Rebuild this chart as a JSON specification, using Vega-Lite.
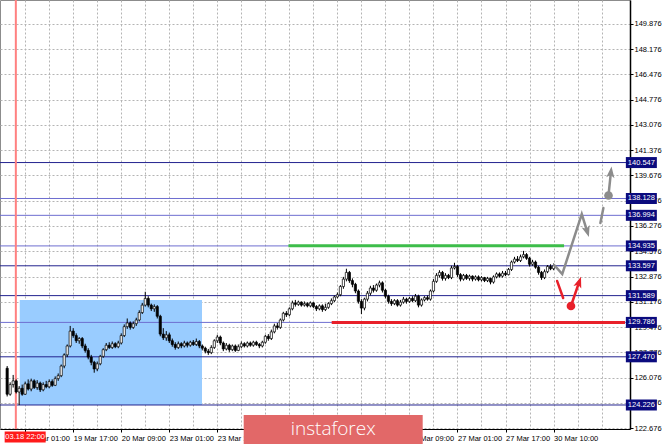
{
  "$schema": "https://vega.github.io/schema/vega-lite/v6.json",
  "description": "USD/JPY H1 with forecast levels",
  "width": 630,
  "height": 429,
  "autosize": {"type": "none"},
  "padding": {"left": 0, "top": 0, "right": 35, "bottom": 17},
  "background": "white",
  "config": {
    "view": {"stroke": "#8c8c8c", "strokeWidth": 1},
    "font": "Liberation Sans",
    "axis": {"labelOverlap": false, "labelFlush": false}
  },
  "resolve": {"scale": {"color": "independent"}},
  "datasets": {
    "candles": [
      {"i":-6,"o":126.70,"h":126.85,"l":124.80,"c":124.95},
      {"i":-5,"o":124.95,"h":125.75,"l":124.85,"c":125.60},
      {"i":-4,"o":125.60,"h":126.25,"l":125.40,"c":125.85},
      {"i":-3,"o":125.85,"h":125.95,"l":125.00,"c":125.10},
      {"i":-2,"o":125.10,"h":125.50,"l":124.22,"c":125.35},
      {"i":-1,"o":125.35,"h":125.60,"l":124.85,"c":124.95},
      {"i":0,"o":124.95,"h":125.80,"l":124.90,"c":125.65},
      {"i":1,"o":125.65,"h":125.95,"l":125.20,"c":125.30},
      {"i":2,"o":125.30,"h":126.00,"l":125.15,"c":125.85},
      {"i":3,"o":125.85,"h":125.95,"l":125.30,"c":125.40},
      {"i":4,"o":125.40,"h":125.90,"l":125.25,"c":125.70},
      {"i":5,"o":125.70,"h":125.80,"l":125.10,"c":125.25},
      {"i":6,"o":125.25,"h":125.75,"l":125.15,"c":125.60},
      {"i":7,"o":125.60,"h":125.85,"l":125.35,"c":125.45},
      {"i":8,"o":125.45,"h":125.95,"l":125.35,"c":125.80},
      {"i":9,"o":125.80,"h":125.95,"l":125.45,"c":125.55},
      {"i":10,"o":125.55,"h":126.15,"l":125.50,"c":126.00},
      {"i":11,"o":126.00,"h":126.35,"l":125.85,"c":126.20},
      {"i":12,"o":126.20,"h":126.95,"l":126.10,"c":126.85},
      {"i":13,"o":126.85,"h":127.70,"l":126.70,"c":127.60},
      {"i":14,"o":127.60,"h":128.30,"l":127.45,"c":128.20},
      {"i":15,"o":128.20,"h":129.55,"l":128.10,"c":129.20},
      {"i":16,"o":129.20,"h":129.40,"l":128.75,"c":128.90},
      {"i":17,"o":128.90,"h":129.05,"l":128.40,"c":128.55},
      {"i":18,"o":128.55,"h":128.80,"l":128.35,"c":128.70},
      {"i":19,"o":128.70,"h":128.80,"l":128.05,"c":128.20},
      {"i":20,"o":128.20,"h":128.35,"l":127.75,"c":127.90},
      {"i":21,"o":127.90,"h":128.05,"l":127.30,"c":127.45},
      {"i":22,"o":127.45,"h":127.60,"l":126.90,"c":127.10},
      {"i":23,"o":127.10,"h":127.20,"l":126.40,"c":126.65},
      {"i":24,"o":126.65,"h":127.15,"l":126.50,"c":127.00},
      {"i":25,"o":127.00,"h":127.60,"l":126.90,"c":127.50},
      {"i":26,"o":127.50,"h":128.05,"l":127.40,"c":127.95},
      {"i":27,"o":127.95,"h":128.40,"l":127.85,"c":128.25},
      {"i":28,"o":128.25,"h":128.45,"l":128.00,"c":128.10},
      {"i":29,"o":128.10,"h":128.50,"l":128.00,"c":128.35},
      {"i":30,"o":128.35,"h":128.45,"l":128.05,"c":128.15},
      {"i":31,"o":128.15,"h":128.55,"l":128.05,"c":128.40},
      {"i":32,"o":128.40,"h":129.05,"l":128.30,"c":128.90},
      {"i":33,"o":128.90,"h":129.65,"l":128.80,"c":129.50},
      {"i":34,"o":129.50,"h":130.05,"l":129.35,"c":129.75},
      {"i":35,"o":129.75,"h":129.85,"l":129.30,"c":129.45},
      {"i":36,"o":129.45,"h":129.85,"l":129.35,"c":129.70},
      {"i":37,"o":129.70,"h":130.10,"l":129.55,"c":129.95},
      {"i":38,"o":129.95,"h":130.60,"l":129.85,"c":130.45},
      {"i":39,"o":130.45,"h":131.10,"l":130.35,"c":130.95},
      {"i":40,"o":130.95,"h":131.85,"l":130.85,"c":131.40},
      {"i":41,"o":131.40,"h":131.55,"l":130.80,"c":130.95},
      {"i":42,"o":130.95,"h":131.05,"l":130.55,"c":130.70},
      {"i":43,"o":130.70,"h":131.00,"l":130.50,"c":130.85},
      {"i":44,"o":130.85,"h":130.95,"l":130.05,"c":130.20},
      {"i":45,"o":130.20,"h":130.30,"l":128.85,"c":129.00},
      {"i":46,"o":129.00,"h":129.40,"l":128.60,"c":128.75},
      {"i":47,"o":128.75,"h":129.20,"l":128.55,"c":128.95},
      {"i":48,"o":128.95,"h":129.10,"l":128.40,"c":128.55},
      {"i":49,"o":128.55,"h":128.70,"l":128.15,"c":128.30},
      {"i":50,"o":128.30,"h":128.45,"l":127.95,"c":128.10},
      {"i":51,"o":128.10,"h":128.50,"l":128.00,"c":128.35},
      {"i":52,"o":128.35,"h":128.45,"l":128.05,"c":128.20},
      {"i":53,"o":128.20,"h":128.55,"l":128.10,"c":128.40},
      {"i":54,"o":128.40,"h":128.50,"l":128.10,"c":128.25},
      {"i":55,"o":128.25,"h":128.55,"l":128.15,"c":128.45},
      {"i":56,"o":128.45,"h":128.60,"l":128.20,"c":128.30},
      {"i":57,"o":128.30,"h":128.70,"l":128.20,"c":128.50},
      {"i":58,"o":128.50,"h":128.60,"l":128.05,"c":128.20},
      {"i":59,"o":128.20,"h":128.30,"l":127.90,"c":128.05},
      {"i":60,"o":128.05,"h":128.15,"l":127.70,"c":127.85},
      {"i":61,"o":127.85,"h":128.00,"l":127.60,"c":127.75},
      {"i":62,"o":127.75,"h":128.25,"l":127.65,"c":128.10},
      {"i":63,"o":128.10,"h":128.65,"l":128.00,"c":128.55},
      {"i":64,"o":128.55,"h":128.95,"l":128.40,"c":128.80},
      {"i":65,"o":128.80,"h":128.90,"l":128.25,"c":128.40},
      {"i":66,"o":128.40,"h":128.50,"l":127.85,"c":128.00},
      {"i":67,"o":128.00,"h":128.40,"l":127.90,"c":128.25},
      {"i":68,"o":128.25,"h":128.35,"l":127.80,"c":127.95},
      {"i":69,"o":127.95,"h":128.30,"l":127.85,"c":128.20},
      {"i":70,"o":128.20,"h":128.30,"l":127.80,"c":127.90},
      {"i":71,"o":127.90,"h":128.30,"l":127.85,"c":128.15},
      {"i":72,"o":128.15,"h":128.50,"l":128.05,"c":128.35},
      {"i":73,"o":128.35,"h":128.45,"l":128.10,"c":128.20},
      {"i":74,"o":128.20,"h":128.50,"l":128.10,"c":128.40},
      {"i":75,"o":128.40,"h":128.50,"l":128.15,"c":128.25},
      {"i":76,"o":128.25,"h":128.55,"l":128.15,"c":128.45},
      {"i":77,"o":128.45,"h":128.55,"l":128.20,"c":128.30},
      {"i":78,"o":128.30,"h":128.40,"l":128.05,"c":128.20},
      {"i":79,"o":128.20,"h":128.55,"l":128.10,"c":128.45},
      {"i":80,"o":128.45,"h":128.95,"l":128.35,"c":128.85},
      {"i":81,"o":128.85,"h":129.00,"l":128.55,"c":128.70},
      {"i":82,"o":128.70,"h":129.30,"l":128.60,"c":129.15},
      {"i":83,"o":129.15,"h":129.70,"l":129.05,"c":129.55},
      {"i":84,"o":129.55,"h":129.75,"l":129.30,"c":129.45},
      {"i":85,"o":129.45,"h":130.05,"l":129.35,"c":129.95},
      {"i":86,"o":129.95,"h":130.50,"l":129.85,"c":130.40},
      {"i":87,"o":130.40,"h":130.55,"l":130.15,"c":130.30},
      {"i":88,"o":130.30,"h":130.80,"l":130.20,"c":130.70},
      {"i":89,"o":130.70,"h":131.25,"l":130.60,"c":131.10},
      {"i":90,"o":131.10,"h":131.30,"l":130.85,"c":131.00},
      {"i":91,"o":131.00,"h":131.25,"l":130.90,"c":131.15},
      {"i":92,"o":131.15,"h":131.20,"l":130.85,"c":130.95},
      {"i":93,"o":130.95,"h":131.20,"l":130.85,"c":131.05},
      {"i":94,"o":131.05,"h":131.15,"l":130.80,"c":130.90},
      {"i":95,"o":130.90,"h":131.20,"l":130.80,"c":131.10},
      {"i":96,"o":131.10,"h":131.15,"l":130.75,"c":130.85},
      {"i":97,"o":130.85,"h":130.95,"l":130.55,"c":130.70},
      {"i":98,"o":130.70,"h":131.00,"l":130.60,"c":130.90},
      {"i":99,"o":130.90,"h":131.00,"l":130.50,"c":130.65},
      {"i":100,"o":130.65,"h":131.05,"l":130.55,"c":130.80},
      {"i":101,"o":130.80,"h":131.15,"l":130.70,"c":131.05},
      {"i":102,"o":131.05,"h":131.40,"l":130.95,"c":131.25},
      {"i":103,"o":131.25,"h":131.60,"l":131.15,"c":131.50},
      {"i":104,"o":131.50,"h":131.80,"l":131.40,"c":131.65},
      {"i":105,"o":131.65,"h":132.30,"l":131.55,"c":132.20},
      {"i":106,"o":132.20,"h":132.85,"l":132.05,"c":132.70},
      {"i":107,"o":132.70,"h":133.40,"l":132.55,"c":133.15},
      {"i":108,"o":133.15,"h":133.25,"l":132.45,"c":132.60},
      {"i":109,"o":132.60,"h":132.75,"l":132.15,"c":132.35},
      {"i":110,"o":132.35,"h":132.45,"l":131.75,"c":131.90},
      {"i":111,"o":131.90,"h":132.00,"l":131.05,"c":131.20},
      {"i":112,"o":131.20,"h":131.35,"l":130.35,"c":130.75},
      {"i":113,"o":130.75,"h":131.45,"l":130.60,"c":131.35},
      {"i":114,"o":131.35,"h":131.90,"l":131.20,"c":131.75},
      {"i":115,"o":131.75,"h":132.25,"l":131.60,"c":132.10},
      {"i":116,"o":132.10,"h":132.30,"l":131.80,"c":131.95},
      {"i":117,"o":131.95,"h":132.40,"l":131.85,"c":132.30},
      {"i":118,"o":132.30,"h":132.60,"l":132.15,"c":132.45},
      {"i":119,"o":132.45,"h":132.55,"l":131.80,"c":131.95},
      {"i":120,"o":131.95,"h":132.05,"l":131.40,"c":131.55},
      {"i":121,"o":131.55,"h":131.65,"l":131.05,"c":131.20},
      {"i":122,"o":131.20,"h":131.35,"l":130.90,"c":131.05},
      {"i":123,"o":131.05,"h":131.35,"l":130.95,"c":131.25},
      {"i":124,"o":131.25,"h":131.35,"l":130.85,"c":130.95},
      {"i":125,"o":130.95,"h":131.30,"l":130.85,"c":131.15},
      {"i":126,"o":131.15,"h":131.50,"l":131.05,"c":131.35},
      {"i":127,"o":131.35,"h":131.45,"l":131.05,"c":131.20},
      {"i":128,"o":131.20,"h":131.50,"l":131.10,"c":131.40},
      {"i":129,"o":131.40,"h":131.55,"l":131.15,"c":131.25},
      {"i":130,"o":131.25,"h":131.70,"l":131.15,"c":131.55},
      {"i":131,"o":131.55,"h":131.65,"l":130.80,"c":130.95},
      {"i":132,"o":130.95,"h":131.40,"l":130.85,"c":131.30},
      {"i":133,"o":131.30,"h":131.55,"l":131.20,"c":131.45},
      {"i":134,"o":131.45,"h":131.60,"l":131.25,"c":131.35},
      {"i":135,"o":131.35,"h":132.00,"l":131.25,"c":131.90},
      {"i":136,"o":131.90,"h":132.70,"l":131.80,"c":132.55},
      {"i":137,"o":132.55,"h":133.10,"l":132.45,"c":132.95},
      {"i":138,"o":132.95,"h":133.30,"l":132.80,"c":133.15},
      {"i":139,"o":133.15,"h":133.25,"l":132.60,"c":132.75},
      {"i":140,"o":132.75,"h":133.10,"l":132.60,"c":132.95},
      {"i":141,"o":132.95,"h":133.05,"l":132.70,"c":132.80},
      {"i":142,"o":132.80,"h":133.60,"l":132.70,"c":133.45},
      {"i":143,"o":133.45,"h":133.80,"l":133.35,"c":133.55},
      {"i":144,"o":133.55,"h":133.65,"l":132.85,"c":133.00},
      {"i":145,"o":133.00,"h":133.10,"l":132.55,"c":132.70},
      {"i":146,"o":132.70,"h":133.05,"l":132.60,"c":132.95},
      {"i":147,"o":132.95,"h":133.05,"l":132.65,"c":132.75},
      {"i":148,"o":132.75,"h":133.00,"l":132.60,"c":132.90},
      {"i":149,"o":132.90,"h":132.95,"l":132.55,"c":132.70},
      {"i":150,"o":132.70,"h":132.95,"l":132.60,"c":132.85},
      {"i":151,"o":132.85,"h":132.95,"l":132.55,"c":132.65},
      {"i":152,"o":132.65,"h":132.90,"l":132.55,"c":132.80},
      {"i":153,"o":132.80,"h":132.85,"l":132.50,"c":132.60},
      {"i":154,"o":132.60,"h":132.85,"l":132.50,"c":132.75},
      {"i":155,"o":132.75,"h":132.80,"l":132.35,"c":132.50},
      {"i":156,"o":132.50,"h":132.95,"l":132.40,"c":132.85},
      {"i":157,"o":132.85,"h":133.15,"l":132.75,"c":133.05},
      {"i":158,"o":133.05,"h":133.15,"l":132.80,"c":132.90},
      {"i":159,"o":132.90,"h":133.25,"l":132.80,"c":133.10},
      {"i":160,"o":133.10,"h":133.25,"l":132.90,"c":133.00},
      {"i":161,"o":133.00,"h":133.45,"l":132.95,"c":133.35},
      {"i":162,"o":133.35,"h":133.95,"l":133.25,"c":133.85},
      {"i":163,"o":133.85,"h":134.20,"l":133.75,"c":134.05},
      {"i":164,"o":134.05,"h":134.25,"l":133.85,"c":133.95},
      {"i":165,"o":133.95,"h":134.35,"l":133.85,"c":134.20},
      {"i":166,"o":134.20,"h":134.60,"l":134.10,"c":134.35},
      {"i":167,"o":134.35,"h":134.45,"l":134.00,"c":134.10},
      {"i":168,"o":134.10,"h":134.20,"l":133.55,"c":133.70},
      {"i":169,"o":133.70,"h":134.00,"l":133.60,"c":133.85},
      {"i":170,"o":133.85,"h":133.95,"l":133.40,"c":133.50},
      {"i":171,"o":133.50,"h":133.60,"l":133.00,"c":133.15},
      {"i":172,"o":133.15,"h":133.25,"l":132.65,"c":132.80},
      {"i":173,"o":132.80,"h":133.35,"l":132.70,"c":133.20},
      {"i":174,"o":133.20,"h":133.65,"l":133.10,"c":133.55},
      {"i":175,"o":133.55,"h":133.70,"l":133.30,"c":133.40},
      {"i":176,"o":133.40,"h":133.75,"l":133.30,"c":133.60}
    ],
    "levels": [
      {"p":140.547,"k":"a"},{"p":138.128,"k":"b"},{"p":136.994,"k":"b"},
      {"p":134.935,"k":"b"},{"p":133.597,"k":"a"},{"p":131.589,"k":"a"},
      {"p":129.786,"k":"b"},{"p":127.470,"k":"a"},{"p":124.226,"k":"a"}
    ],
    "zone": [{"i":-1.8,"i2":58.9,"p":124.226,"p2":131.29}],
    "separator": [{"i":-3.11,"t":"03.18 22:00"}],
    "targets": [
      {"s":"g","i":87.7,"i2":179.5,"p":134.94},
      {"s":"r","i":102.1,"i2":199.8,"p":129.786}
    ],
    "paths": [
      {"seg":"g1","s":"g","n":1,"i":176.2,"p":133.65},
      {"seg":"g1","s":"g","n":2,"i":178.9,"p":133.04},
      {"seg":"g1","s":"g","n":3,"i":185.4,"p":137.08},
      {"seg":"g1","s":"g","n":4,"i":187.2,"p":135.92},
      {"seg":"g2","s":"g","n":1,"i":191.6,"p":136.48},
      {"seg":"g2","s":"g","n":2,"i":192.6,"p":137.49},
      {"seg":"g3","s":"g","n":1,"i":194.3,"p":138.33},
      {"seg":"g3","s":"g","n":2,"i":195.1,"p":139.88},
      {"seg":"r1","s":"r","n":1,"i":177.2,"p":132.57},
      {"seg":"r1","s":"r","n":2,"i":179.2,"p":131.43},
      {"seg":"r2","s":"r","n":1,"i":181.8,"p":130.89},
      {"seg":"r2","s":"r","n":2,"i":184.5,"p":132.49}
    ],
    "heads": [
      {"id":"g1","i":187.2,"p":135.92},
      {"id":"g3","i":195.1,"p":139.88},
      {"id":"r2","i":184.5,"p":132.49}
    ],
    "dots": [
      {"s":"g","i":194.3,"p":138.33},
      {"s":"r","i":181.8,"p":130.89}
    ],
    "brand": [{"t":"instaforex"}]
  },
  "layer": [
    {
      "data": {"name": "zone"},
      "mark": {"type": "rect", "color": "#99ccff"},
      "encoding": {
        "x": {
          "field": "i", "type": "quantitative", "title": null,
          "scale": {"domain": [-6.72, 199.8], "nice": false, "zero": false},
          "axis": {
            "values": [0,8,16,24,32,40,48,56,64,72,80,88,96,104,112,120,128,136,144,152,160,168,176,184,192],
            "tickCount": 100,
            "labelExpr": "datum.value % 16 == 0 && datum.value <= 176 ? ['19 Mar 01:00','19 Mar 17:00','20 Mar 09:00','23 Mar 01:00','23 Mar 17:00','24 Mar 09:00','25 Mar 01:00','25 Mar 17:00','26 Mar 09:00','27 Mar 01:00','27 Mar 17:00','30 Mar 10:00'][datum.value / 16] : ''",
            "labelAlign": "left",
            "labelFlush": false,
            "labelOverlap": false,
            "labelPadding": 2,
            "labelFontSize": 7.5,
            "labelColor": "black",
            "tickSize": 3,
            "tickColor": "black",
            "tickOpacity": {"condition": {"test": "datum.value % 16 == 0 && datum.value <= 176", "value": 1}, "value": 0},
            "domainColor": "black",
            "grid": true,
            "gridColor": "#b4b4b4",
            "gridDash": [2, 2]
          }
        },
        "x2": {"field": "i2"},
        "y": {
          "field": "p", "type": "quantitative", "title": null,
          "scale": {"domain": [122.61, 151.49], "nice": false, "zero": false},
          "axis": {
            "orient": "right",
            "values": [122.676,124.376,126.076,127.776,129.476,131.176,132.876,134.576,136.276,137.976,139.676,141.376,143.076,144.776,146.476,148.176,149.876],
            "tickCount": 100,
            "format": ".3f",
            "labelFlush": false,
            "labelOverlap": false,
            "labelPadding": 1,
            "labelFontSize": 7.5,
            "labelColor": "black",
            "tickSize": 3,
            "tickColor": "black",
            "domainColor": "black",
            "domainWidth": 1.5,
            "grid": true,
            "gridColor": "#b4b4b4",
            "gridDash": [2, 2]
          }
        },
        "y2": {"field": "p2"}
      }
    },
    {
      "data": {"name": "levels"},
      "mark": {"type": "rule", "strokeWidth": 1},
      "encoding": {
        "y": {"field": "p", "type": "quantitative", "title": null},
        "color": {"field": "k", "type": "nominal", "legend": null,
          "scale": {"domain": ["a", "b"], "range": ["#23238f", "#6e6ed0"]}}
      }
    },
    {
      "data": {"name": "separator"},
      "mark": {"type": "rule", "color": "#ff8080", "strokeWidth": 2},
      "encoding": {
        "x": {"field": "i", "type": "quantitative", "title": null}
      }
    },
    {
      "data": {"name": "targets"},
      "mark": {"type": "rule", "strokeWidth": 3},
      "encoding": {
        "x": {"field": "i", "type": "quantitative", "title": null},
        "x2": {"field": "i2"},
        "y": {"field": "p", "type": "quantitative", "title": null},
        "color": {"field": "s", "type": "nominal", "legend": null,
          "scale": {"domain": ["g", "r"], "range": ["#3dbd4a", "#e8202a"]}}
      }
    },
    {
      "data": {"name": "candles"},
      "mark": {"type": "rule", "color": "black", "strokeWidth": 1},
      "encoding": {
        "x": {"field": "i", "type": "quantitative", "title": null},
        "y": {"field": "l", "type": "quantitative", "title": null},
        "y2": {"field": "h"}
      }
    },
    {
      "data": {"name": "candles"},
      "mark": {"type": "bar", "width": 2.2, "stroke": "black", "strokeWidth": 0.7},
      "encoding": {
        "x": {"field": "i", "type": "quantitative", "title": null},
        "y": {"field": "o", "type": "quantitative", "title": null},
        "y2": {"field": "c"},
        "fill": {"condition": {"test": "datum.c >= datum.o", "value": "white"}, "value": "black"}
      }
    },
    {
      "data": {"name": "paths"},
      "mark": {"type": "line", "strokeWidth": 2.5, "strokeCap": "round"},
      "encoding": {
        "x": {"field": "i", "type": "quantitative", "title": null},
        "y": {"field": "p", "type": "quantitative", "title": null},
        "detail": {"field": "seg"},
        "order": {"field": "n"},
        "color": {"field": "s", "type": "nominal", "legend": null,
          "scale": {"domain": ["g", "r"], "range": ["#8c8c8c", "#e8202a"]}}
      }
    },
    {
      "data": {"name": "dots"},
      "mark": {"type": "point", "shape": "circle", "filled": true, "opacity": 1, "size": 75},
      "encoding": {
        "x": {"field": "i", "type": "quantitative", "title": null},
        "y": {"field": "p", "type": "quantitative", "title": null},
        "color": {"field": "s", "type": "nominal", "legend": null,
          "scale": {"domain": ["g", "r"], "range": ["#8c8c8c", "#e8202a"]}}
      }
    },
    {
      "data": {"name": "heads"},
      "transform": [{"filter": "datum.id == 'g1'"}],
      "mark": {"type": "point", "shape": "M0,-1L0.7,0.9L0,0.45L-0.7,0.9Z", "filled": true, "opacity": 1, "size": 140, "angle": 163, "color": "#8c8c8c"},
      "encoding": {
        "x": {"field": "i", "type": "quantitative", "title": null},
        "y": {"field": "p", "type": "quantitative", "title": null}
      }
    },
    {
      "data": {"name": "heads"},
      "transform": [{"filter": "datum.id == 'g3'"}],
      "mark": {"type": "point", "shape": "M0,-1L0.7,0.9L0,0.45L-0.7,0.9Z", "filled": true, "opacity": 1, "size": 140, "angle": 6, "color": "#8c8c8c"},
      "encoding": {
        "x": {"field": "i", "type": "quantitative", "title": null},
        "y": {"field": "p", "type": "quantitative", "title": null}
      }
    },
    {
      "data": {"name": "heads"},
      "transform": [{"filter": "datum.id == 'r2'"}],
      "mark": {"type": "point", "shape": "M0,-1L0.7,0.9L0,0.45L-0.7,0.9Z", "filled": true, "opacity": 1, "size": 140, "angle": 19, "color": "#e8202a"},
      "encoding": {
        "x": {"field": "i", "type": "quantitative", "title": null},
        "y": {"field": "p", "type": "quantitative", "title": null}
      }
    },
    {
      "data": {"name": "levels"},
      "mark": {"type": "tick", "orient": "horizontal", "size": 31, "thickness": 11, "color": "#0b0b7e", "opacity": 1},
      "encoding": {
        "x": {"datum": 205.25, "type": "quantitative"},
        "y": {"field": "p", "type": "quantitative", "title": null}
      }
    },
    {
      "data": {"name": "levels"},
      "mark": {"type": "text", "color": "white", "fontSize": 7.5, "align": "center", "baseline": "middle"},
      "encoding": {
        "x": {"datum": 205.25, "type": "quantitative"},
        "y": {"field": "p", "type": "quantitative", "title": null},
        "text": {"field": "p", "type": "quantitative", "format": ".3f"}
      }
    },
    {
      "data": {"name": "separator"},
      "mark": {"type": "tick", "orient": "horizontal", "size": 41, "thickness": 11, "color": "#ff1a1a", "opacity": 1},
      "encoding": {
        "x": {"datum": 0, "type": "quantitative"},
        "y": {"datum": 122.07, "type": "quantitative"}
      }
    },
    {
      "data": {"name": "separator"},
      "mark": {"type": "text", "color": "white", "fontSize": 7.5, "align": "center", "baseline": "middle"},
      "encoding": {
        "x": {"datum": 0, "type": "quantitative"},
        "y": {"datum": 122.07, "type": "quantitative"},
        "text": {"field": "t"}
      }
    },
    {
      "data": {"name": "brand"},
      "mark": {"type": "tick", "orient": "horizontal", "size": 179, "thickness": 29, "color": "#e26868", "opacity": 1},
      "encoding": {
        "x": {"datum": 102.6, "type": "quantitative"},
        "y": {"datum": 122.57, "type": "quantitative"}
      }
    },
    {
      "data": {"name": "brand"},
      "mark": {"type": "text", "color": "white", "font": "Open Sans", "fontWeight": 300, "fontSize": 19, "align": "center", "baseline": "middle"},
      "encoding": {
        "x": {"datum": 102.6, "type": "quantitative"},
        "y": {"datum": 122.62, "type": "quantitative"},
        "text": {"field": "t"}
      }
    }
  ]
}
